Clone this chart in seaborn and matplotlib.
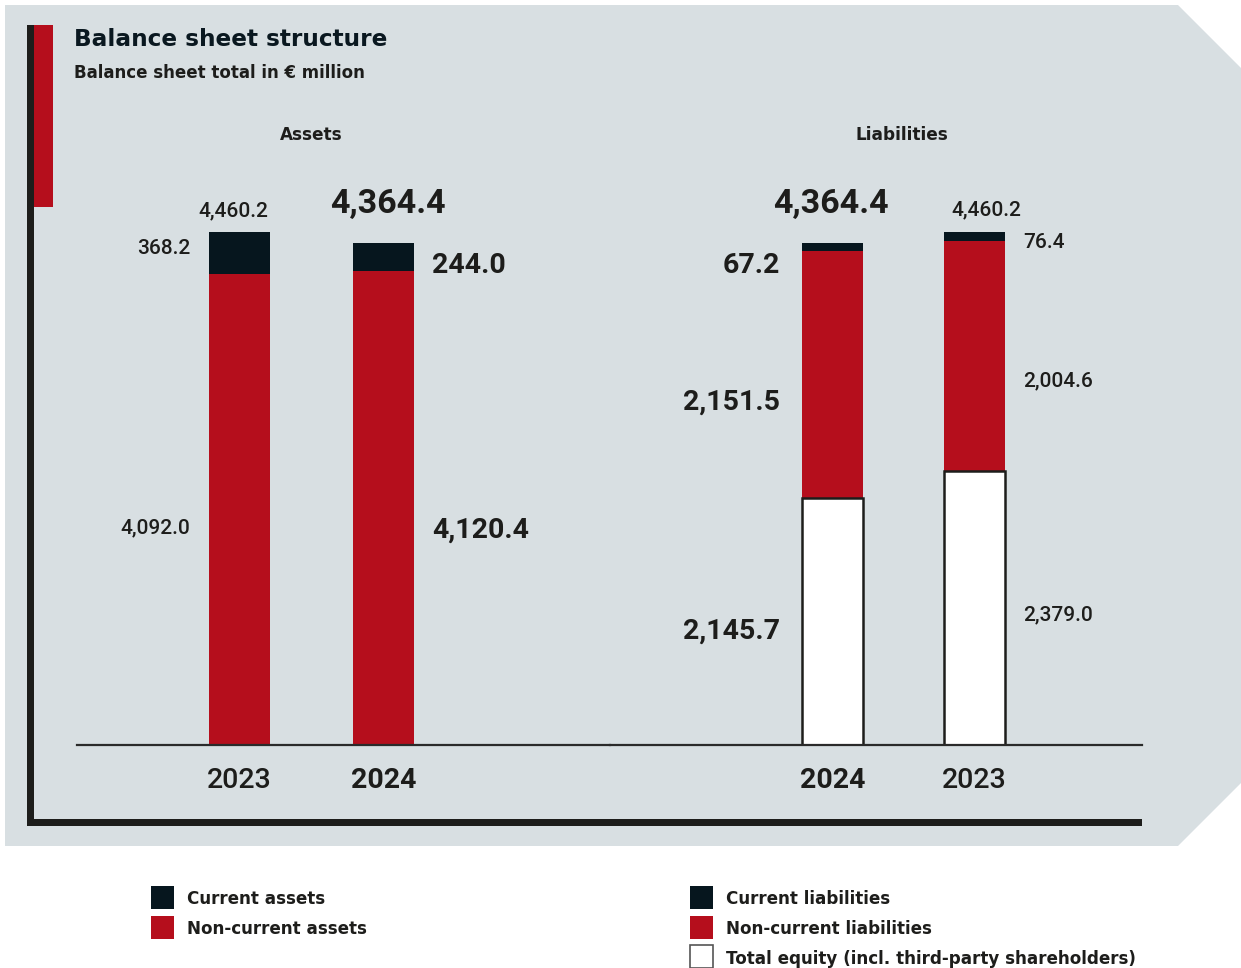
import matplotlib
matplotlib.use("Agg")
import matplotlib.pyplot as plt
from matplotlib.patches import Polygon, Rectangle
import seaborn as sns
import pandas as pd

# ---- data (EUR million) ----
years_assets = ["2023", "2024"]
current_assets = [368.2, 244.0]
noncurrent_assets = [4092.0, 4120.4]
assets_total = [4460.2, 4364.4]

years_liab = ["2024", "2023"]
current_liab = [67.2, 76.4]
noncurrent_liab = [2151.5, 2004.6]
equity = [2145.7, 2379.0]
liab_total = [4364.4, 4460.2]

legend_assets = ["Current assets", "Non-current assets"]
legend_liab = ["Current liabilities", "Non-current liabilities",
               "Total equity (incl. third-party shareholders)"]

# ---- style ----
RED = "#B50E1C"
DARK = "#06161E"
INK = "#1D1D1B"
PANEL = "#D8DFE2"
W, H = 1241, 968
WORDS = ["DejaVu Sans"]            # wide bold face for headings and legend
DIGITS = ["Roboto", "DejaVu Sans"]  # compact figures for the numbers

sns.set_theme(style="white")
plt.rcParams["font.family"] = DIGITS

fig = plt.figure(figsize=(W / 100, H / 100), dpi=100)
fig.patch.set_facecolor("white")


def fx(x):
    return x / W


def fy(y):
    return 1 - y / H


def rect(x0, y0, x1, y1, **kw):
    fig.add_artist(Rectangle((fx(x0), fy(y1)), (x1 - x0) / W, (y1 - y0) / H,
                             transform=fig.transFigure, **kw))


def ftext(x, y, s, **kw):
    kw.setdefault("color", INK)
    kw.setdefault("va", "center")
    fig.text(fx(x), fy(y + 2), s, transform=fig.transFigure, **kw)


def fmt(v):
    return f"{v:,.1f}"


# background panel with chamfered right side
fig.add_artist(Polygon([(fx(5), fy(5)), (fx(1178), fy(5)), (fx(1241), fy(68)),
                        (fx(1241), fy(783)), (fx(1178), fy(846)), (fx(5), fy(846))],
                       closed=True, transform=fig.transFigure,
                       facecolor=PANEL, edgecolor="none", zorder=0))
# frame and accent
rect(27, 25, 34, 826, facecolor=INK, edgecolor="none", zorder=1)
rect(27, 819, 1142, 826, facecolor=INK, edgecolor="none", zorder=1)
rect(34, 25, 53, 207, facecolor=RED, edgecolor="none", zorder=1)

# ---- axes ----
px_per_unit = 513 / 4460.2
ymax = (745 - 150) / px_per_unit
axL = fig.add_axes([fx(77), fy(745), (610 - 77) / W, (745 - 150) / H])
axR = fig.add_axes([fx(610), fy(745), (1142 - 610) / W, (745 - 150) / H])

bar_kw = dict(saturation=1, errorbar=None, linewidth=0)

df_a = pd.DataFrame({"year": years_assets, "total": assets_total,
                     "noncurrent": noncurrent_assets})
sns.barplot(data=df_a, x="year", y="total", order=years_assets, color=DARK,
            width=61 / 144, ax=axL, **bar_kw)
sns.barplot(data=df_a, x="year", y="noncurrent", order=years_assets, color=RED,
            width=61 / 144, ax=axL, **bar_kw)

df_l = pd.DataFrame({"year": years_liab, "total": liab_total,
                     "lower": [n + e for n, e in zip(noncurrent_liab, equity)],
                     "equity": equity})
sns.barplot(data=df_l, x="year", y="total", order=years_liab, color=DARK,
            width=61 / 142, ax=axR, **bar_kw)
sns.barplot(data=df_l, x="year", y="lower", order=years_liab, color=RED,
            width=61 / 142, ax=axR, **bar_kw)
sns.barplot(data=df_l, x="year", y="equity", order=years_liab, color="white",
            width=61 / 142, ax=axR, saturation=1, errorbar=None,
            linewidth=1.8, edgecolor=INK)

axL.set_xlim(-(239.5 - 77) / 144, 1 + (610 - 383.5) / 144)
axR.set_xlim(-(832.5 - 610) / 142, 1 + (1142 - 974.5) / 142)
for ax in (axL, axR):
    ax.set_ylim(0, ymax)
    ax.patch.set_visible(False)
    ax.set_xlabel("")
    ax.set_ylabel("")
    ax.set_yticks([])
    for side in ("top", "left", "right"):
        ax.spines[side].set_visible(False)
    ax.spines["bottom"].set_color("#2A2A2A")
    ax.spines["bottom"].set_linewidth(1.6)
    ax.tick_params(axis="x", length=0, pad=16, labelsize=20.5, colors=INK)
    for lab in ax.get_xticklabels():
        lab.set_fontweight("bold" if lab.get_text() == "2024" else "medium")

# ---- titles ----
ftext(74, 37, "Balance sheet structure", fontsize=16.7, fontweight="bold",
      color="#0A1820", family=WORDS)
ftext(74, 71, "Balance sheet total in € million", fontsize=12,
      fontweight="bold", family=WORDS)
ftext(311, 133, "Assets", fontsize=12.2, fontweight="bold", ha="center",
      family=WORDS)
ftext(902, 133, "Liabilities", fontsize=12.2, fontweight="bold", ha="center",
      family=WORDS)

# ---- value labels ----
REG = dict(fontsize=15, fontweight="medium")
BIG = dict(fontsize=24.5, fontweight="bold")
MID = dict(fontsize=20.5, fontweight="bold")

# assets 2023
ftext(233, 209, fmt(assets_total[0]), ha="center", **REG)
ftext(190, 247, fmt(current_assets[0]), ha="right", **REG)
ftext(190, 526, fmt(noncurrent_assets[0]), ha="right", **REG)
# assets 2024
ftext(388, 202, fmt(assets_total[1]), ha="center", **BIG)
ftext(432, 264, fmt(current_assets[1]), ha="left", **MID)
ftext(432, 528, fmt(noncurrent_assets[1]), ha="left", **MID)
# liabilities 2024
ftext(831, 202, fmt(liab_total[0]), ha="center", **BIG)
ftext(780, 264, fmt(current_liab[0]), ha="right", **MID)
ftext(780, 400, fmt(noncurrent_liab[0]), ha="right", **MID)
ftext(780, 629, fmt(equity[0]), ha="right", **MID)
# liabilities 2023
ftext(986, 208, fmt(liab_total[1]), ha="center", **REG)
ftext(1023, 241, fmt(current_liab[1]), ha="left", **REG)
ftext(1023, 379, fmt(noncurrent_liab[1]), ha="left", **REG)
ftext(1023, 613, fmt(equity[1]), ha="left", **REG)

# ---- legends ----
swatches_a = [DARK, RED]
for i, (label, col) in enumerate(zip(legend_assets, swatches_a)):
    top = 886 + i * 30
    rect(151, top, 174, top + 23, facecolor=col, edgecolor="none")
    ftext(187, top + 11.5, label, fontsize=12.1, fontweight="bold", family=WORDS)

swatches_l = [DARK, RED, "white"]
for i, (label, col) in enumerate(zip(legend_liab, swatches_l)):
    top = 886 + i * 29.5
    rect(690, top, 713, top + 23, facecolor=col,
         edgecolor="#555555" if col == "white" else "none", linewidth=1.2)
    ftext(726, top + 11.5, label, fontsize=12.1, fontweight="bold", family=WORDS)

fig.savefig("out.png", dpi=100, facecolor="white")
